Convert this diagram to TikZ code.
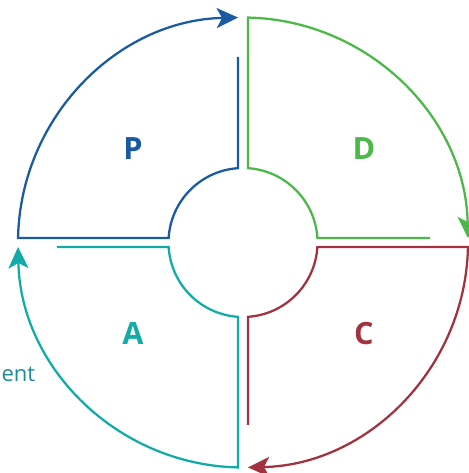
\documentclass[tikz,border=0pt]{standalone}
\usepackage{fontspec}
\setmainfont{Open Sans}
\usetikzlibrary{arrows.meta,calc}
\definecolor{cP}{HTML}{1A5AA0}
\definecolor{cD}{HTML}{4CB848}
\definecolor{cC}{HTML}{A2323F}
\definecolor{cA}{HTML}{12ACA8}
\definecolor{cT}{HTML}{1F8A9A}
\begin{document}
\begin{tikzpicture}[x=0.75pt,y=0.75pt,line width=1.7pt,line join=miter,
  arr/.style={-{Stealth[length=16pt,width=15pt,inset=4pt]}},
  lett/.style={font=\bfseries\fontsize{23}{27}\selectfont,inner sep=0pt}]
\useasboundingbox (0,0) rectangle (468,473);
\coordinate (O) at (243,230.5);
% P (blue)
\draw[cP,arr] ($(O)+(-5,185.5)$) -- ($(O)+(93.85:74.5)$)
  arc[start angle=93.85,end angle=176.54,radius=74.5]
  -- ($(O)+(178.85:225)$)
  arc[start angle=178.85,end angle=91.27,radius=225];
% D (green)
\draw[cD,arr] ($(O)+(187,4.5)$) -- ($(O)+(3.46:74.5)$)
  arc[start angle=3.46,end angle=86.15,radius=74.5]
  -- ($(O)+(88.73:225)$)
  arc[start angle=88.73,end angle=1.15,radius=225];
% C (red)
\draw[cC,arr] ($(O)+(5,-182.5)$) -- ($(O)+(-86.15:74.5)$)
  arc[start angle=-86.15,end angle=-3.46,radius=74.5]
  -- ($(O)+(-1.15:225)$)
  arc[start angle=-1.15,end angle=-88.73,radius=225];
% A (teal)
\draw[cA,arr] ($(O)+(-186,-4.5)$) -- ($(O)+(-176.54:74.5)$)
  arc[start angle=-176.54,end angle=-93.85,radius=74.5]
  -- ($(O)+(-91.27:225)$)
  arc[start angle=-91.27,end angle=-178.85,radius=225];
% letters
\node[lett,text=cP] (p) at (133,324) {P};
\node[lett,text=cD] (d) at (364,324) {D};
\node[lett,text=cC] (c) at (364,139) {C};
\node[lett,text=cA] (a) at (133,139) {A};
\node[anchor=base west,inner sep=0pt,text=cT,font=\fontsize{16.5}{20}\selectfont] (ent) at (0.5,91) {ent};
\end{tikzpicture}
\end{document}
